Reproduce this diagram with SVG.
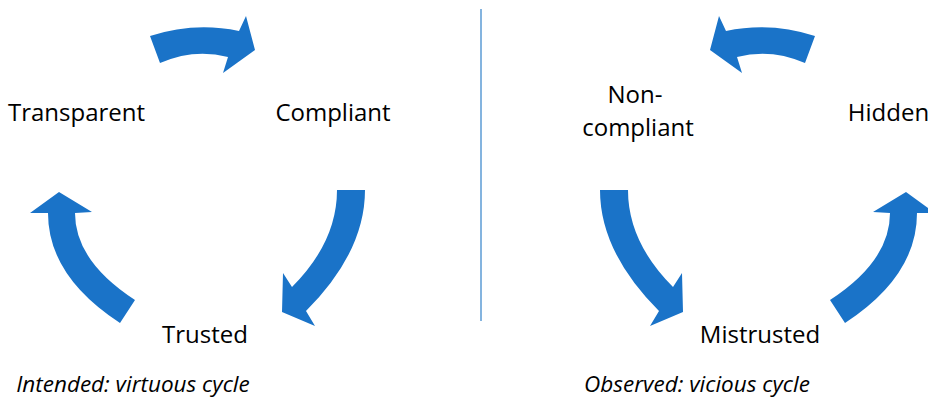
<svg xmlns="http://www.w3.org/2000/svg" width="928" height="399" viewBox="0 0 928 399">
<style>
.arrow{fill:#1a73c8;}
.lbl{font-family:"Open Sans","Liberation Sans",sans-serif;font-size:24px;fill:#000;text-anchor:middle;}
.cap{font-family:"Open Sans","Liberation Sans",sans-serif;font-size:22.5px;font-style:italic;fill:#000;text-anchor:middle;}
</style>
<defs>
<path id="arTop" d="M150,36 Q194.5,21.5 239,31 L246,16 L255,50 L223,73 L228,57 Q194,48 160,63 Z"/>
<path id="arRight" d="M337,190 L365,190 Q365,252 306,311 L315,326 L282,312 L283,273 L292,287 Q337,242 337,190 Z"/>
<path id="arLeft" d="M120,323 Q48,276 48,213 L30,213 L59,192 L92,212 L75,213 Q75,261 135,300 Z"/>
</defs>
<rect width="928" height="399" fill="#fff"/>
<g id="connectors">
<use href="#arTop" class="arrow"/>
<use href="#arRight" class="arrow"/>
<use href="#arLeft" class="arrow"/>
<g transform="translate(965,0) scale(-1,1)">
<use href="#arTop" class="arrow"/>
<use href="#arRight" class="arrow"/>
<use href="#arLeft" class="arrow"/>
</g>
<line x1="481" y1="9" x2="481" y2="321" stroke="#5b9bd5" stroke-width="1.5"/>
</g>
<g id="transparent"><text class="lbl" x="76.5" y="121">Transparent</text></g>
<g id="compliant"><text class="lbl" x="333" y="121">Compliant</text></g>
<g id="trusted"><text class="lbl" x="205" y="343">Trusted</text></g>
<g id="noncompliant"><text class="lbl" x="635" y="103">Non-</text><text class="lbl" x="638" y="136">compliant</text></g>
<g id="hidden"><text class="lbl" x="888.5" y="121">Hidden</text></g>
<g id="mistrusted"><text class="lbl" x="760" y="343">Mistrusted</text></g>
<g id="caption-left"><text class="cap" x="133" y="392">Intended: virtuous cycle</text></g>
<g id="caption-right"><text class="cap" x="697" y="392">Observed: vicious cycle</text></g>
</svg>
